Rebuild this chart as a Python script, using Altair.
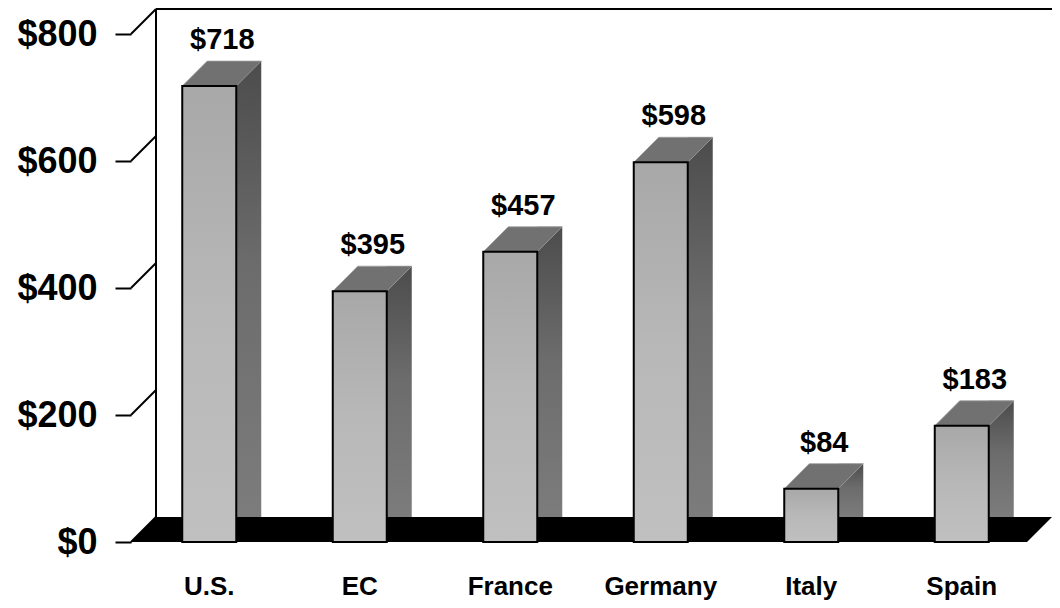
import altair as alt
import pandas as pd

# ---- data ----
countries = ["U.S.", "EC", "France", "Germany", "Italy", "Spain"]
values = [718, 395, 457, 598, 84, 183]
tick_values = [0, 200, 400, 600, 800]

df = pd.DataFrame({"country": countries, "value": values})
ticks_df = pd.DataFrame({"t": tick_values})
wall_df = pd.DataFrame({"lo": [min(tick_values)], "hi": [max(tick_values)]})

# ---- layout / style constants (pixels) ----
W, H = 896, 508          # plot area: front floor span and value range
D = 25                   # 3D depth offset
HALF = 27                # half width of the front face
FONT = "Liberation Sans"

xs = alt.Scale(type="band", domain=countries, paddingInner=0, paddingOuter=0,
               range=[3, 906])
ys = alt.Scale(domain=[min(tick_values), max(tick_values)], nice=False, zero=True)

xaxis = alt.Axis(ticks=False, domain=False, grid=False, labelAngle=0,
                 labelFont=FONT, labelFontSize=26, labelFontWeight="bold",
                 labelColor="black", labelPadding=52, labelBaseline="alphabetic",
                 labelOverlap=False, labelFlush=False)
yaxis = alt.Axis(values=tick_values, tickSize=16, tickWidth=2, tickColor="black",
                 domain=False, grid=False, labelExpr="'$' + datum.value",
                 labelFont=FONT, labelFontSize=36, labelFontWeight="bold",
                 labelColor="black", labelPadding=18, labelBaseline="middle",
                 labelOverlap=False, labelFlush=False)


def X():
    return alt.X("country:N", scale=xs, sort=countries, axis=xaxis, title=None)


def Y(field):
    return alt.Y(field, scale=ys, axis=yaxis, title=None)


side_fill = alt.Gradient(gradient="linear", x1=0, y1=0, x2=0, y2=1,
                         stops=[alt.GradientStop(color="#4c4c4c", offset=0),
                                alt.GradientStop(color="#6c6c6c", offset=0.45),
                                alt.GradientStop(color="#7c7c7c", offset=1)])
front_fill = alt.Gradient(gradient="linear", x1=0, y1=0, x2=0, y2=1,
                          stops=[alt.GradientStop(color="#a8a8a8", offset=0),
                                 alt.GradientStop(color="#b8b8b8", offset=0.5),
                                 alt.GradientStop(color="#c0c0c0", offset=1)])

# floor (black parallelogram)
floor = alt.Chart(pd.DataFrame({"v": [0]})).mark_point(
    shape=f"M0,0 L{W},0 L{W + D},{-D} L{D},{-D} Z", size=4, filled=True,
    fill="black", opacity=1, strokeWidth=0
).encode(x=alt.value(0), y=Y("v:Q"))

# back wall: left edge and top edge
wall_v = alt.Chart(wall_df).mark_rule(
    color="black", strokeWidth=2, yOffset=-D, y2Offset=-D
).encode(x=alt.value(D), y=Y("lo:Q"), y2="hi:Q")

wall_top = alt.Chart(wall_df).mark_rule(
    color="black", strokeWidth=2, yOffset=-D
).encode(x=alt.value(D), x2=alt.value(W + D), y=Y("hi:Q"))

# diagonal part of each y tick (front axis to back wall)
tick_diag = alt.Chart(ticks_df).mark_rule(
    color="black", strokeWidth=2, y2Offset=-D
).encode(x=alt.value(0), x2=alt.value(D), y=Y("t:Q"), y2="t:Q")

# side faces
side = alt.Chart(df).mark_bar(
    width=D, xOffset=HALF + D / 2, yOffset=-D, fill=side_fill, strokeWidth=0
).encode(x=X(), y=Y("value:Q"))

# floor shadow below each side face
shadow = alt.Chart(df).transform_calculate(zero="0").mark_point(
    shape=f"M{HALF},0 L{HALF + D},{-D} L{HALF + D},0 Z", size=4, filled=True,
    fill="black", opacity=1, strokeWidth=0
).encode(x=X(), y=Y("zero:Q"))

# top faces
top = alt.Chart(df).mark_point(
    shape=f"M{-HALF},0 L{HALF},0 L{HALF + D},{-D} L{-HALF + D},{-D} Z", size=4,
    filled=True, fill="#717171", opacity=1, stroke="#a0a0a0", strokeWidth=0.8
).encode(x=X(), y=Y("value:Q"))

# front faces
front = alt.Chart(df).mark_bar(
    width=2 * HALF, fill=front_fill, stroke="black", strokeWidth=2
).encode(x=X(), y=Y("value:Q"))

# value labels
labels = alt.Chart(df).transform_calculate(
    lab="'$' + datum.value"
).mark_text(
    dx=13, dy=-37, baseline="alphabetic", align="center", font=FONT,
    fontSize=29, fontWeight="bold", color="black"
).encode(x=X(), y=Y("value:Q"), text="lab:N")

chart = alt.layer(
    wall_v, wall_top, floor, tick_diag, side, shadow, top, front, labels
).properties(
    width=W, height=H,
    padding={"left": 123, "top": 26, "right": 25, "bottom": 58},
    autosize=alt.AutoSizeParams(type="none"),
    background="white",
).configure_view(stroke=None)

chart.save("out.html", embed_options={"renderer": "svg", "actions": False})
